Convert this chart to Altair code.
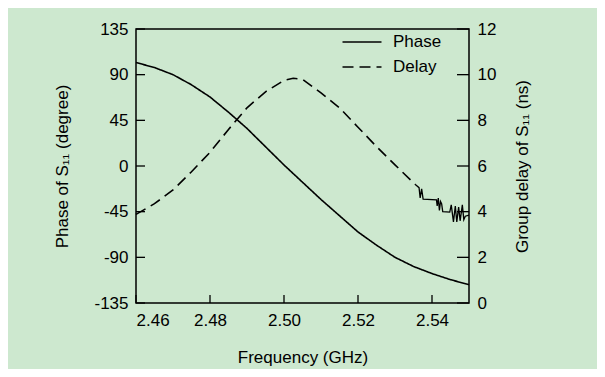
import altair as alt
import pandas as pd

# ---- data ----
freq_phase = [2.460, 2.465, 2.470, 2.475, 2.480, 2.485, 2.490, 2.495, 2.500, 2.505,
              2.510, 2.515, 2.520, 2.525, 2.530, 2.535, 2.540, 2.545, 2.550]
phase_deg = [102, 97, 90, 80, 68, 53, 37, 19, 1, -16,
             -33, -49, -65, -78, -90, -99, -106, -112, -117]

freq_delay = [2.460, 2.465, 2.470, 2.475, 2.480, 2.485, 2.490, 2.495, 2.500, 2.5025,
              2.505, 2.510, 2.515, 2.520, 2.525, 2.530, 2.5354]
delay_ns = [3.88, 4.35, 4.95, 5.75, 6.60, 7.60, 8.55, 9.25, 9.75, 9.84,
            9.80, 9.20, 8.55, 7.70, 6.85, 6.05, 5.20]

# noisy tail of the delay trace
freq_tail = [2.5354, 2.5365, 2.5368, 2.5372, 2.5376, 2.5412, 2.5414, 2.5417, 2.5420,
             2.5423, 2.5426, 2.5429, 2.5448, 2.5452, 2.5458, 2.5463, 2.5467, 2.5472,
             2.5476, 2.5482, 2.5486, 2.5490, 2.5500]
delay_tail = [5.20, 5.05, 4.60, 5.00, 4.55, 4.52, 4.25, 4.60, 4.05,
              4.45, 4.35, 4.00, 3.98, 4.30, 3.55, 4.25, 3.55, 4.20,
              3.60, 4.30, 3.65, 3.80, 3.85]

x_ticks = [2.46, 2.48, 2.50, 2.52, 2.54]
phase_ticks = [-135, -90, -45, 0, 45, 90, 135]
delay_ticks = [0, 2, 4, 6, 8, 10, 12]

W, H = 333, 274
FONT = "Liberation Sans"
BG = "#cde8cf"

df_phase = pd.DataFrame({"f": freq_phase, "v": phase_deg, "series": "Phase"})
df_delay = pd.DataFrame({"f": freq_delay, "v": delay_ns, "series": "Delay"})
df_tail = pd.DataFrame({"f": freq_tail, "v": delay_tail})
df_xt = pd.DataFrame({"f": x_ticks})
df_pt = pd.DataFrame({"v": phase_ticks})
df_dt = pd.DataFrame({"v": delay_ticks})

common = dict(ticks=False, domain=False, grid=False, labelFontSize=17,
              titleFontSize=17, labelFont=FONT, titleFont=FONT,
              labelColor="black", titleColor="black", titleFontWeight="normal")

x_enc = alt.X(
    "f:Q",
    scale=alt.Scale(domain=[2.46, 2.55], nice=False, zero=False),
    axis=alt.Axis(values=x_ticks, format=".2f", title="Frequency  (GHz)",
                  labelPadding=9, titlePadding=21, **common),
)
yP = alt.Scale(domain=[-135, 135], nice=False, zero=False)
yD = alt.Scale(domain=[0, 12], nice=False, zero=False)

dash = alt.StrokeDash(
    "series:N",
    scale=alt.Scale(domain=["Phase", "Delay"], range=[[1, 0], [11, 6]]),
    legend=alt.Legend(orient="none", legendX=215, legendY=2, title=None,
                      symbolType="M-2,0H2", symbolSize=380, symbolStrokeWidth=1.6,
                      symbolStrokeColor="black", labelFontSize=17, labelFont=FONT,
                      labelColor="black", labelOffset=20, rowPadding=6, padding=0),
)

phase = alt.Chart(df_phase).mark_line(color="black", strokeWidth=1.6).encode(
    x=x_enc,
    y=alt.Y("v:Q", scale=yP,
            axis=alt.Axis(values=phase_ticks, title="Phase of S₁₁ (degree)",
                          labelExpr="'' + datum.value",
                          labelPadding=8, titlePadding=22, **common)),
    strokeDash=dash,
)

delay = alt.Chart(df_delay).mark_line(color="black", strokeWidth=1.6).encode(
    x=x_enc,
    y=alt.Y("v:Q", scale=yD,
            axis=alt.Axis(orient="right", values=delay_ticks,
                          title="Group delay of S₁₁ (ns)", titleAngle=270,
                          labelPadding=8, titlePadding=36, **common)),
    strokeDash=dash,
)

tail = alt.Chart(df_tail).mark_line(color="black", strokeWidth=1.3).encode(
    x=x_enc,
    y=alt.Y("v:Q", scale=yD, axis=None),
)

left_ticks = alt.Chart(df_pt).mark_rule(color="black", strokeWidth=1.3).encode(
    x=alt.value(0), x2=alt.value(9),
    y=alt.Y("v:Q", scale=yP, axis=None),
)
right_ticks = alt.Chart(df_dt).mark_rule(color="black", strokeWidth=1.3).encode(
    x=alt.value(W - 12), x2=alt.value(W),
    y=alt.Y("v:Q", scale=yD, axis=None),
)
bottom_ticks = alt.Chart(df_xt).mark_rule(color="black", strokeWidth=1.3).encode(
    x=x_enc, y=alt.value(H), y2=alt.value(H - 8),
)

chart = alt.layer(
    phase, delay, tail, left_ticks, right_ticks, bottom_ticks
).resolve_scale(y="independent").properties(
    width=W, height=H, background=BG,
    autosize=alt.AutoSizeParams(type="none"),
    padding={"left": 128, "top": 21, "right": 128, "bottom": 66},
).configure_view(stroke="black", strokeWidth=1.5)

chart.save("out.html", embed_options={"renderer": "svg", "actions": False})
